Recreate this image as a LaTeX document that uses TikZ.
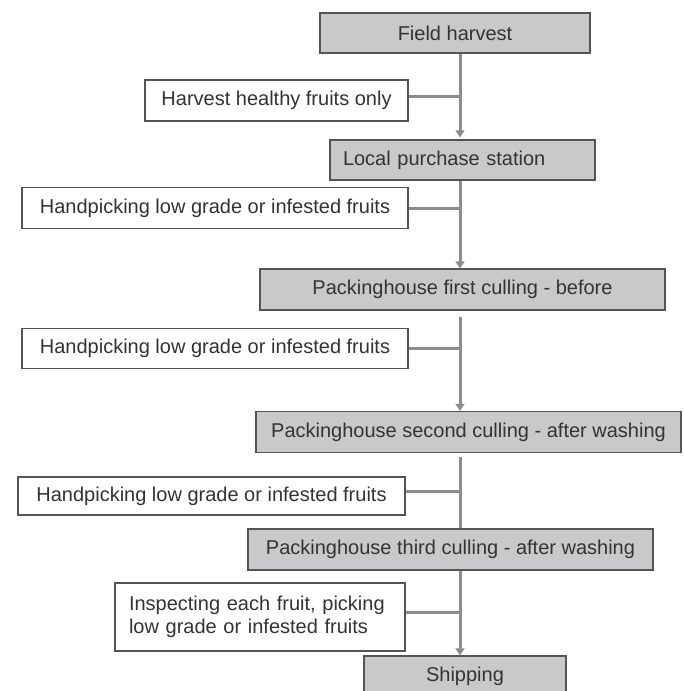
\documentclass[tikz,border=0pt]{standalone}
\usepackage{fontspec}
\setmainfont{Liberation Sans}
\usetikzlibrary{arrows.meta}
\definecolor{boxfill}{HTML}{C9C9CB}
\definecolor{boxline}{HTML}{555555}
\definecolor{linkgray}{HTML}{8C8C90}
\definecolor{txt}{HTML}{333333}
\tikzset{
  stepbox/.style={draw=boxline, line width=1.3pt, fill=boxfill, inner sep=0pt, text=txt, font=\fontsize{20}{23}\selectfont},
  notebox/.style={draw=boxline, line width=1.3pt, fill=white, inner sep=0pt, text=txt, font=\fontsize{20}{23}\selectfont},
  link/.style={draw=linkgray, line width=3pt},
  linkarrow/.style={link, -{Triangle[width=9pt,length=7pt]}},
}
\begin{document}
\begin{tikzpicture}[x=1pt,y=-1pt]
\useasboundingbox (0,0) rectangle (684,691);
\clip (0,0) rectangle (684,691);
\coordinate (spine) at (460,0);
% main steps
\node[stepbox, minimum width=270pt, minimum height=40pt] (fh) at (455,33) {Field harvest};
\node[stepbox, minimum width=265pt, minimum height=40pt, text width=239pt, inner xsep=13pt, align=left] (lp) at (462.5,160) {Local purchase station};
\node[stepbox, minimum width=405pt, minimum height=41pt] (pf) at (462.5,289.5) {Packinghouse first culling - before};
\node[stepbox, minimum width=425pt, minimum height=41pt] (ps) at (468.5,432) {Packinghouse second culling - after washing};
\node[stepbox, minimum width=405pt, minimum height=41pt] (pt) at (450.5,549.5) {Packinghouse third culling - after washing};
\node[stepbox, minimum width=202pt, minimum height=40pt] (sh) at (465,676) {Shipping};
% side notes
\node[notebox, minimum width=263pt, minimum height=41pt] (hh) at (276.5,100.5) {Harvest healthy fruits only};
\node[notebox, minimum width=386pt, minimum height=41pt] (hp1) at (215,208) {Handpicking low grade or infested fruits};
\node[notebox, minimum width=386pt, minimum height=40pt] (hp2) at (215,348.5) {Handpicking low grade or infested fruits};
\node[notebox, minimum width=387pt, minimum height=38pt] (hp3) at (211.5,496) {Handpicking low grade or infested fruits};
\node[notebox, minimum width=290pt, minimum height=68pt, text width=262pt, inner xsep=14pt, align=left, font=\fontsize{20}{23.5}\selectfont] (ins) at (260,617) {Inspecting each fruit, picking\\low grade or infested fruits};
% connectors along the spine
\draw[linkarrow] (fh.south -| spine) -- ([yshift=2pt]lp.north -| spine);
\draw[linkarrow] (lp.south -| spine) -- (pf.north -| spine);
\draw[linkarrow] ([yshift=-6pt]pf.south -| spine) -- (ps.north -| spine);
\draw[link] ([yshift=-4pt]ps.south -| spine) -- (pt.north -| spine);
\draw[linkarrow] (pt.south -| spine) -- (sh.north -| spine);
% side branches
\draw[link] ([yshift=4pt]hh.east) -- ([yshift=4pt]hh.east -| spine);
\draw[link] (hp1.east) -- (hp1.east -| spine);
\draw[link] (hp2.east) -- (hp2.east -| spine);
\draw[link] ([yshift=5pt]hp3.east) -- ([yshift=5pt]hp3.east -| spine);
\draw[link] ([yshift=5pt]ins.east) -- ([yshift=5pt]ins.east -| spine);
\end{tikzpicture}
\end{document}
